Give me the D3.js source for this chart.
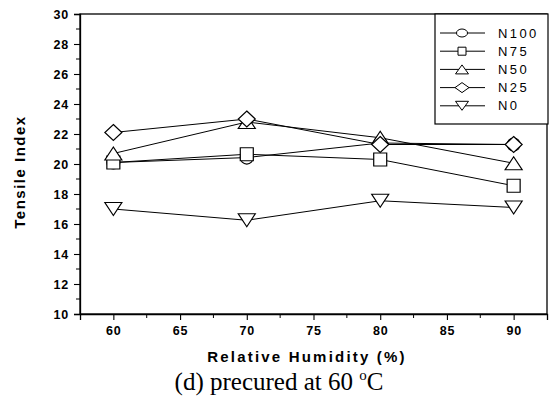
<!DOCTYPE html>
<html>
<head>
<meta charset="utf-8">
<script src="https://cdn.jsdelivr.net/npm/d3@7"></script>
<style>
  body { margin: 0; background: #fff; }
  svg { display: block; }
</style>
</head>
<body>
<div id="chart"></div>
<script>
// data
const humidity = [60, 70, 80, 90];
const seriesNames = ["N100", "N75", "N50", "N25", "N0"];
const seriesShapes = ["circle", "square", "triangle", "diamond", "triangleDown"];
const n100 = [20.1, 20.43, 21.4, 21.3];
const n75 = [20.1, 20.65, 20.3, 18.55];
const n50 = [20.7, 22.8, 21.75, 20.05];
const n25 = [22.1, 23.0, 21.3, 21.3];
const n0 = [17.0, 16.25, 17.55, 17.1];
const seriesValues = [n100, n75, n50, n25, n0];
const xTicks = [60, 65, 70, 75, 80, 85, 90];
const yTicks = [10, 12, 14, 16, 18, 20, 22, 24, 26, 28, 30];

const W = 549, H = 396;
const plotLeft = 80, plotTop = 14, plotRight = 547, plotBottom = 314;
const FONT = "Liberation Sans, Arial, sans-serif";

// marker sizes [width, height] in plot and in legend
const markerSize = {
    circle: [13, 13], square: [13, 13], triangle: [17, 13],
    triangleDown: [17, 13], diamond: [17, 16]
};
const legendMarkerSize = {
    circle: [11, 8], square: [8, 8], triangle: [13, 9],
    triangleDown: [13, 9], diamond: [14, 10]
};

const svg = d3.select("#chart").append("svg")
    .attr("width", W)
    .attr("height", H);

const x = d3.scaleLinear().domain([57.5, 92.5]).range([plotLeft, plotRight]);
const y = d3.scaleLinear().domain([10, 30]).range([plotBottom, plotTop]);

// marker shapes, centred on 0,0
function markerPath(shape, [w, h]) {
    const a = w / 2, b = h / 2;
    switch (shape) {
        case "circle":
            return `M${-a},0A${a},${b} 0 1,0 ${a},0A${a},${b} 0 1,0 ${-a},0Z`;
        case "square":
            return `M${-a},${-b}H${a}V${b}H${-a}Z`;
        case "triangle":
            return `M0,${-b}L${a},${b}L${-a},${b}Z`;
        case "triangleDown":
            return `M0,${b}L${a},${-b}L${-a},${-b}Z`;
        case "diamond":
            return `M0,${-b}L${a},0L0,${b}L${-a},0Z`;
    }
}

// frame
svg.append("rect")
    .attr("x", plotLeft).attr("y", plotTop)
    .attr("width", plotRight - plotLeft).attr("height", plotBottom - plotTop)
    .attr("fill", "none").attr("stroke", "#000").attr("stroke-width", 1.3);

// axes
const xAxis = svg.append("g")
    .attr("transform", `translate(0,${plotBottom})`)
    .call(d3.axisBottom(x).tickValues(xTicks).tickSize(6).tickPadding(6).tickFormat(d3.format("d")));
xAxis.append("g").selectAll("line")
    .data(d3.range(62.5, 92.5, 5))
    .join("line")
    .attr("x1", d => x(d)).attr("x2", d => x(d))
    .attr("y1", 0).attr("y2", 4)
    .attr("stroke", "#000");

const yAxis = svg.append("g")
    .attr("transform", `translate(${plotLeft},0)`)
    .call(d3.axisLeft(y).tickValues(yTicks).tickSize(6).tickPadding(5).tickFormat(d3.format("d")));
yAxis.append("g").selectAll("line")
    .data(d3.range(11, 30, 2))
    .join("line")
    .attr("y1", d => y(d)).attr("y2", d => y(d))
    .attr("x1", 0).attr("x2", -4)
    .attr("stroke", "#000");

svg.selectAll(".domain").attr("stroke-width", 1.3);
svg.selectAll(".tick line").attr("stroke-width", 1.1);
svg.selectAll(".tick text")
    .attr("font-family", FONT)
    .attr("font-size", 12.5)
    .attr("font-weight", "bold")
    .attr("letter-spacing", 0.8)
    .attr("fill", "#000");

// axis titles
svg.append("text")
    .attr("x", 307).attr("y", 362)
    .attr("text-anchor", "middle")
    .attr("font-family", FONT)
    .attr("font-size", 15)
    .attr("font-weight", "bold")
    .attr("letter-spacing", 2.2)
    .text("Relative Humidity (%)");

svg.append("text")
    .attr("transform", "translate(25,172) rotate(-90)")
    .attr("text-anchor", "middle")
    .attr("font-family", FONT)
    .attr("font-size", 15)
    .attr("font-weight", "bold")
    .attr("letter-spacing", 1.5)
    .text("Tensile Index");

// caption
const cap = svg.append("text")
    .attr("x", 279).attr("y", 390)
    .attr("text-anchor", "middle")
    .attr("font-family", "Liberation Serif, Times New Roman, serif")
    .attr("font-size", 25)
    .attr("fill", "#000");
cap.append("tspan").text("(d) precured at 60 ");
cap.append("tspan").attr("font-size", 15).attr("dy", -10).text("o");
cap.append("tspan").attr("dy", 10).text("C");

// series
const line = d3.line().x((d, i) => x(humidity[i])).y(d => y(d));
seriesValues.forEach((vals, k) => {
    const g = svg.append("g");
    g.append("path")
        .attr("d", line(vals))
        .attr("fill", "none")
        .attr("stroke", "#000")
        .attr("stroke-width", 1);
    g.selectAll("path.m")
        .data(vals)
        .join("path")
        .attr("class", "m")
        .attr("transform", (d, i) => `translate(${x(humidity[i])},${y(d)})`)
        .attr("d", markerPath(seriesShapes[k], markerSize[seriesShapes[k]]))
        .attr("fill", "#fff")
        .attr("stroke", "#000")
        .attr("stroke-width", 1.2);
});

// legend
const legend = svg.append("g");
legend.append("rect")
    .attr("x", 435).attr("y", plotTop)
    .attr("width", 113).attr("height", 110)
    .attr("fill", "#fff").attr("stroke", "#000").attr("stroke-width", 1.2);
seriesNames.forEach((name, k) => {
    const ly = 33 + k * 18.2;
    legend.append("line")
        .attr("x1", 440).attr("x2", 485)
        .attr("y1", ly).attr("y2", ly)
        .attr("stroke", "#000");
    legend.append("path")
        .attr("transform", `translate(462,${ly})`)
        .attr("d", markerPath(seriesShapes[k], legendMarkerSize[seriesShapes[k]]))
        .attr("fill", "#fff")
        .attr("stroke", "#000");
    legend.append("text")
        .attr("x", 498).attr("y", ly + 4.5)
        .attr("font-family", FONT)
        .attr("font-size", 13)
        .attr("letter-spacing", 2.4)
        .text(name);
});
</script>
</body>
</html>
